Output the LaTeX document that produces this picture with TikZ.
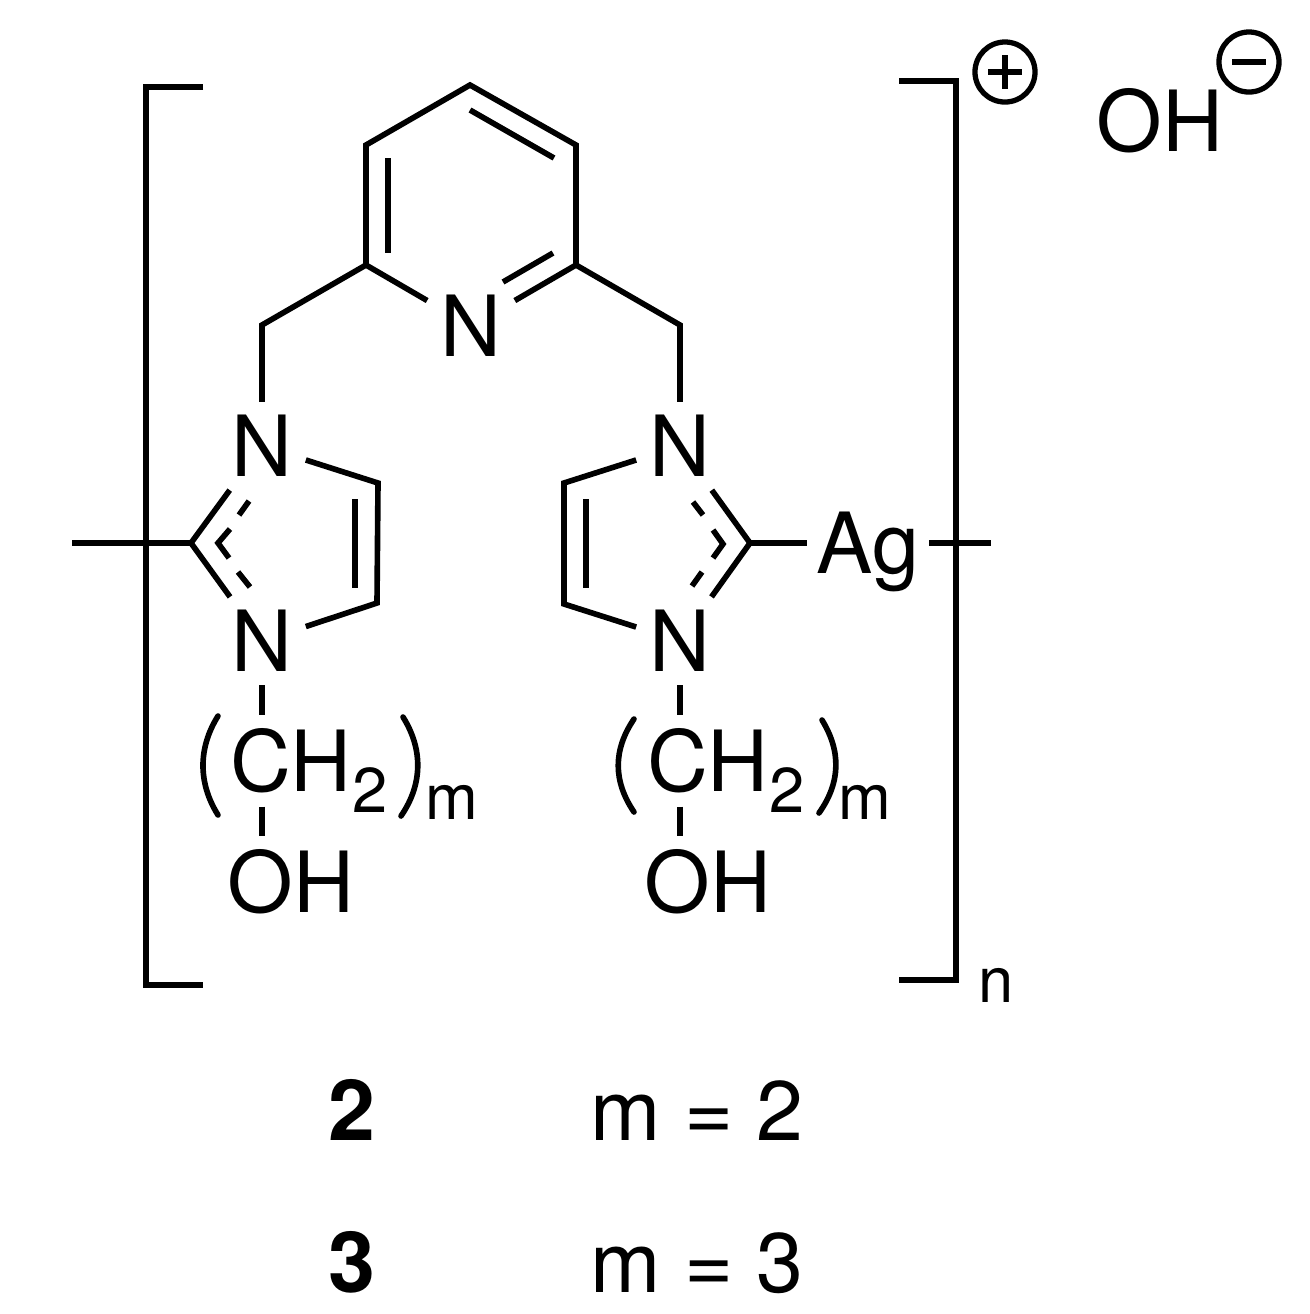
\documentclass[tikz,border=0pt]{standalone}
\usepackage{fontspec}
\setmainfont{TeX Gyre Heros}
\begin{document}
\begin{tikzpicture}[x=0.01cm,y=-0.01cm,line width=1.6pt]
	\tikzstyle{atom}=[inner sep=3pt,font=\fontsize{24}{28}\selectfont]
	\tikzstyle{small}=[inner sep=0pt,font=\fontsize{18}{21}\selectfont]
	\tikzstyle{charge}=[draw,line width=1.5pt,shape=circle,minimum size=0.6cm,inner sep=0pt]
	\tikzstyle{curl}=[line cap=round]
	\useasboundingbox (0,0) rectangle (1310,1314);

	% pyridine ring
	\coordinate (c1) at (470,85);
	\coordinate (c2) at (576,145);
	\coordinate (c3) at (576,265);
	\node[atom](n1) at (471,326){N};
	\coordinate (c5) at (366,265);
	\coordinate (c6) at (366,145);
	\coordinate (c1i) at (470,110);
	\coordinate (c2i) at (554,158);
	\coordinate (c3i) at (553,253);
	\coordinate (n1i) at (503,282);
	\coordinate (c5i) at (388,253);
	\coordinate (c6i) at (388,158);
	\draw (c5) -- (c6) -- (c1) -- (c2) -- (c3);
	\draw (c3) -- (n1);
	\draw (c5) -- (n1);
	\draw (c6i) -- (c5i);
	\draw (c1i) -- (c2i);
	\draw (c3i) -- (n1i);

	% arms
	\coordinate (al) at (262,325);
	\coordinate (ar) at (680,325);
	\node[atom](nl1) at (262,446){N};
	\node[atom](nl2) at (262,641){N};
	\node[atom](nr1) at (680,446){N};
	\node[atom](nr2) at (680,641){N};
	\draw (c5) -- (al) -- (nl1);
	\draw (c3) -- (ar) -- (nr1);

	% left imidazole
	\coordinate (cl) at (191,543);
	\coordinate (cl1) at (378,483);
	\coordinate (cl2) at (377,603);
	\coordinate (cl1i) at (355,499);
	\coordinate (cl2i) at (355,588);
	\draw (nl1) -- (cl);
	\draw (nl2) -- (cl);
	\draw (nl1) -- (cl1) -- (cl2) -- (nl2);
	\draw (cl1i) -- (cl2i);
	\draw (249,501) -- (239,515);
	\draw (230,529) -- (218,543) -- (229,558);
	\draw (238,572) -- (250,587);

	% right imidazole
	\coordinate (cr) at (750,543);
	\coordinate (cr1) at (564,483);
	\coordinate (cr2) at (564,604);
	\coordinate (cr1i) at (586,499);
	\coordinate (cr2i) at (586,588);
	\draw (nr1) -- (cr);
	\draw (nr2) -- (cr);
	\draw (nr1) -- (cr1) -- (cr2) -- (nr2);
	\draw (cr1i) -- (cr2i);
	\draw (693,502) -- (703,515);
	\draw (713,530) -- (723,544) -- (713,558);
	\draw (702,572) -- (692,586);

	% silver and chain ends
	\node[atom,inner sep=2pt,anchor=base](ag) at (868,573){Ag};
	\coordinate (tl) at (72,543);
	\coordinate (tr) at (991,543);
	\draw (cl) -- (tl);
	\draw (cr) -- (ag.west |- cr);
	\draw (ag.east |- tr) -- (tr);

	% side chains
	\node[atom](chl) at (291,761){CH};
	\node[small](chl2) at (370,790){2};
	\node[atom](chr) at (708,761){CH};
	\node[small](chr2) at (787,790){2};
	\node[atom](ohl) at (291,882){OH};
	\node[atom](ohr) at (708,882){OH};
	\node[small,anchor=base](ml) at (452,819){m};
	\node[small,anchor=base](mr) at (865,819){m};
	\draw (nl2) -- (chl.north -| nl2);
	\draw (nr2) -- (chr.north -| nr2);
	\draw (chl.south -| nl2) -- (ohl.north -| nl2);
	\draw (chr.south -| nr2) -- (ohr.north -| nr2);
	\coordinate (pl1) at (218,716);
	\coordinate (pl2) at (218,815);
	\coordinate (pl3) at (403,717);
	\coordinate (pl4) at (401,816);
	\draw[curl] (pl1) .. controls (198,748) and (198,783) .. (pl2);
	\draw[curl] (pl3) .. controls (423,749) and (423,784) .. (pl4);
	\coordinate (pr1) at (634,719);
	\coordinate (pr2) at (634,812);
	\coordinate (pr3) at (822,720);
	\coordinate (pr4) at (819,813);
	\draw[curl] (pr1) .. controls (613,750) and (613,781) .. (pr2);
	\draw[curl] (pr3) .. controls (841,751) and (841,782) .. (pr4);

	% brackets
	\coordinate (bl1) at (203,87);
	\coordinate (bl2) at (146,87);
	\coordinate (bl3) at (146,985);
	\coordinate (bl4) at (203,985);
	\coordinate (br1) at (899,81);
	\coordinate (br2) at (956,81);
	\coordinate (br3) at (956,980);
	\coordinate (br4) at (899,980);
	\draw (bl1) -- (bl2) -- (bl3) -- (bl4);
	\draw (br1) -- (br2) -- (br3) -- (br4);
	\node[small,anchor=base](nsub) at (996.5,1002){n};

	% charges
	\node[charge](plus) at (1005,72){};
	\draw (plus.center) ++(-17,0) -- ++(34,0);
	\draw (plus.center) ++(0,-17) -- ++(0,34);
	\node[charge](minus) at (1249,62){};
	\draw (minus.center) ++(-17,0) -- ++(34,0);
	\node[atom](oh) at (1160,121){OH};

	% captions
	\node[atom,font=\fontsize{24}{28}\selectfont\bfseries,anchor=base](two) at (352,1140){2};
	\node[atom,anchor=base](mtwo) at (697,1140){m = 2};
	\node[atom,font=\fontsize{24}{28}\selectfont\bfseries,anchor=base](three) at (352,1292){3};
	\node[atom,anchor=base](mthree) at (697,1292){m = 3};
\end{tikzpicture}
\end{document}
